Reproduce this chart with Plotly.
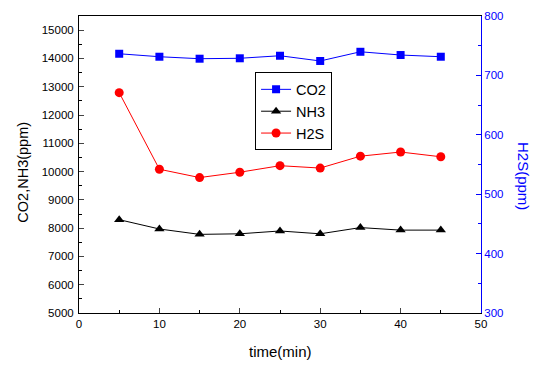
import plotly.graph_objects as go

time_min = [5, 10, 15, 20, 25, 30, 35, 40, 45]
co2 = [14165, 14060, 13990, 14005, 14095, 13910, 14235, 14120, 14060]
nh3 = [8300, 7970, 7780, 7800, 7900, 7800, 8020, 7930, 7930]
h2s = [671, 542, 528, 537, 548, 544, 564, 571, 563]

x_ticks = [0, 10, 20, 30, 40, 50]
left_ticks = list(range(5000, 15001, 1000))
right_ticks = list(range(300, 801, 100))

FONT = "Liberation Sans, Arial, sans-serif"

fig = go.Figure()
fig.add_trace(go.Scatter(x=time_min, y=co2, name="CO2", mode="lines+markers",
                         line=dict(color="#0000FF", width=1),
                         marker=dict(symbol="square", size=8, color="#0000FF")))
fig.add_trace(go.Scatter(x=time_min, y=nh3, name="NH3", mode="lines+markers",
                         line=dict(color="#000000", width=1),
                         marker=dict(symbol="triangle-up", size=9, color="#000000")))
fig.add_trace(go.Scatter(x=time_min, y=h2s, name="H2S", mode="lines+markers",
                         line=dict(color="#FF0000", width=1),
                         marker=dict(symbol="circle", size=9, color="#FF0000"),
                         yaxis="y2"))

fig.update_layout(
    width=536, height=365,
    margin=dict(l=79, r=55, t=10, b=52),
    paper_bgcolor="white", plot_bgcolor="white",
    font=dict(family=FONT, size=11.5, color="black"),
    showlegend=True,
    legend=dict(x=0.438, y=0.81, xanchor="left", yanchor="top",
                bordercolor="black", borderwidth=1, bgcolor="white",
                font=dict(size=14.5), itemwidth=30, tracegroupgap=0),
    xaxis=dict(range=[0, 50], tickvals=x_ticks, ticks="inside", ticklen=5,
               showline=True, linecolor="black", linewidth=1, mirror=True,
               showgrid=False, zeroline=False, tickformat="d",
               minor=dict(dtick=5, ticks="inside", ticklen=3, tickcolor="black"),
               tickfont=dict(size=11.5)),
    yaxis=dict(range=[5000, 15500], tickvals=left_ticks, ticks="inside", ticklen=5,
               showline=True, linecolor="black", linewidth=1,
               showgrid=False, zeroline=False, tickformat="d", ticklabelstandoff=2,
               minor=dict(dtick=500, ticks="inside", ticklen=3, tickcolor="black"),
               tickfont=dict(size=11.5)),
    yaxis2=dict(range=[300, 800], tickvals=right_ticks, ticks="inside", ticklen=5,
                overlaying="y", side="right", tickformat="d",
                showline=True, linecolor="#0000FF", linewidth=1, tickcolor="#0000FF",
                showgrid=False, zeroline=False,
                minor=dict(dtick=50, ticks="inside", ticklen=3, tickcolor="#0000FF"),
                tickfont=dict(size=11.5, color="#0000FF")),
    annotations=[
        dict(text="time(min)", x=0.5, y=-0.13, xref="paper", yref="paper",
             showarrow=False, font=dict(size=15), yanchor="middle"),
        dict(text="CO2,NH3(ppm)", x=-0.14, y=0.475, xref="paper", yref="paper",
             showarrow=False, textangle=-90, font=dict(size=14.5), xanchor="center"),
        dict(text="H2S(ppm)", x=1.104, y=0.462, xref="paper", yref="paper",
             showarrow=False, textangle=90, font=dict(size=15, color="#0000FF"),
             xanchor="center"),
    ],
)

fig.write_html("out.html")
